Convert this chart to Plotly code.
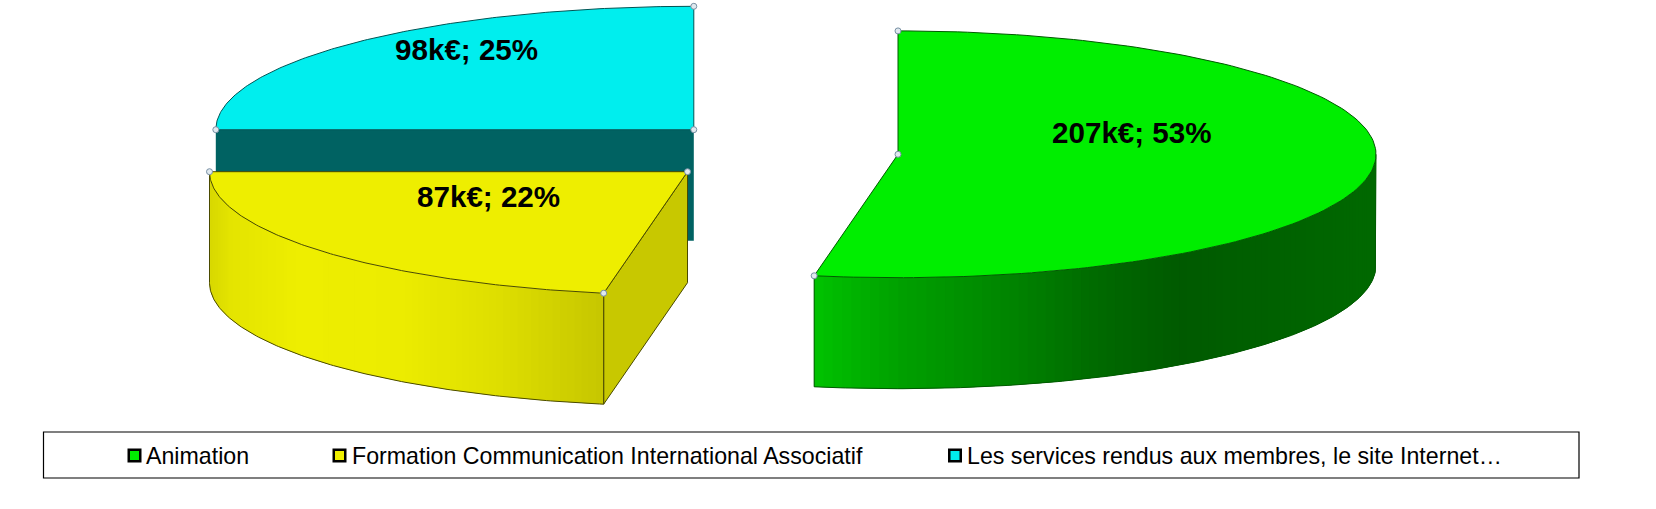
import numpy as np
import plotly.graph_objects as go

# ---- data ----
categories = ["Animation",
              "Formation Communication International Associatif",
              "Les services rendus aux membres, le site Internet…"]
values_keur = [207, 87, 98]
percents = [53, 22, 25]

# ---- style / layout constants ----
W, H = 1656, 509
RX, RY, DEPTH = 478.0, 123.4, 111.0
FONT = "Liberation Sans, Arial, sans-serif"
centers = [(898.0, 154.3), (687.5, 171.7), (693.8, 129.7)]
top_colors = ["#00ee00", "#eeee00", "#00eeee"]
edge_colors = ["#005a00", "#4a4a00", "#005555"]
label_pos = [(1132, 132.5), (488.8, 196.2), (466.2, 49.5)]
legend_key_x = [134.5, 339.5, 955]
legend_text_x = [143.8, 349.5, 964.5]
LEGEND_Y = 455.5

# gradient stops along x for the rim of each slice (x, grey-level)
green_rim = ([814, 900, 1000, 1100, 1180, 1376], [195, 160, 135, 105, 90, 105])
yellow_rim = ([209, 230, 300, 400, 500, 560, 604], [215, 228, 238, 236, 222, 208, 198])

fracs = np.array(values_keur, dtype=float) / sum(values_keur)
edges = np.concatenate([[0], np.cumsum(fracs)]) * 2 * np.pi
spans = list(zip(edges[:-1], edges[1:]))


def arc(center, t0, t1, n=160):
    t = np.linspace(t0, t1, n)
    return center[0] + RX * np.sin(t), center[1] - RY * np.cos(t)


fig = go.Figure()


def poly(x, y, fill=None, line=None, width=1.0):
    fig.add_trace(go.Scatter(
        x=list(x), y=list(y), mode="lines", showlegend=False, hoverinfo="skip",
        fill="toself" if fill else None, fillcolor=fill,
        line=dict(color=line or fill or "rgba(0,0,0,0)", width=width if line else 0),
    ))


def rim(center, t0, t1, stops, col, edge):
    ts = np.linspace(t0, t1, 90)
    for a, b in zip(ts[:-1], ts[1:]):
        b2 = min(b + (ts[1] - ts[0]), t1)
        x, y = arc(center, a, b2, 6)
        v = int(round(np.interp(center[0] + RX * np.sin((a + b) / 2), *stops)))
        poly(np.r_[x, x[::-1]], np.r_[y, y[::-1] + DEPTH], fill=col(v))
    x, y = arc(center, t0, t1)
    poly(np.r_[x[0], x, x[-1]], np.r_[y[0], y + DEPTH, y[-1]], line=edge, width=1)


def top(center, t0, t1, fill, edge):
    x, y = arc(center, t0, t1)
    poly(np.r_[center[0], x, center[0]], np.r_[center[1], y, center[1]], fill=fill, line=edge, width=1)


def handles(center, t0, t1):
    x, y = arc(center, t0, t1, 2)
    fig.add_trace(go.Scatter(
        x=[x[0], center[0], x[1]], y=[y[0], center[1], y[1]], mode="markers",
        showlegend=False, hoverinfo="skip",
        marker=dict(size=6, color="#dfe8ee", line=dict(color="#7890a4", width=1)),
    ))


# cyan slice (back)
c = centers[2]
t0, t1 = spans[2]
x, y = arc(c, t0, t0 + 1e-9, 2)
poly([x[0], c[0], c[0], x[0], x[0]],
     [c[1], c[1], c[1] + DEPTH, c[1] + DEPTH, c[1]], fill="#006262")
top(c, t0, t1, top_colors[2], edge_colors[2])

# yellow slice
c = centers[1]
t0, t1 = spans[1]
x, y = arc(c, t0, t1, 2)
poly([c[0], x[0], x[0], c[0], c[0]],
     [c[1], y[0], y[0] + DEPTH, c[1] + DEPTH, c[1]], fill="#c8c800", line=edge_colors[1])
rim(c, t0, t1, yellow_rim, lambda v: f"rgb({v},{v},0)", edge_colors[1])
top(c, t0, t1, top_colors[1], edge_colors[1])

# green slice
c = centers[0]
t0, t1 = spans[0]
rim(c, np.pi / 2, t1, green_rim, lambda v: f"rgb(0,{v},0)", edge_colors[0])
top(c, t0, t1, top_colors[0], edge_colors[0])

for i in (2, 1, 0):
    handles(centers[i], *spans[i])

# value labels
annotations = [dict(x=p[0], y=p[1], text=f"<b>{v}k€; {q}%</b>", showarrow=False,
                    xanchor="center", yanchor="middle",
                    font=dict(family=FONT, size=29.6, color="#000000"))
               for p, v, q in zip(label_pos, values_keur, percents)]

# legend
fig.add_trace(go.Scatter(
    x=legend_key_x, y=[LEGEND_Y] * 3, mode="markers", showlegend=False, hoverinfo="skip",
    marker=dict(symbol="square", size=11.5, color=top_colors, line=dict(color="#000000", width=2.5)),
))
annotations += [dict(x=x, y=LEGEND_Y, text=name, showarrow=False, xanchor="left", yanchor="middle",
                     font=dict(family=FONT, size=23.2, color="#000000"))
                for x, name in zip(legend_text_x, categories)]

fig.update_layout(
    width=W, height=H, margin=dict(l=0, r=0, t=0, b=0),
    paper_bgcolor="#ffffff", plot_bgcolor="#ffffff",
    xaxis=dict(range=[0, W], visible=False, fixedrange=True),
    yaxis=dict(range=[H, 0], visible=False, fixedrange=True),
    annotations=annotations,
    shapes=[dict(type="rect", x0=43.5, x1=1579, y0=432, y1=478,
                 line=dict(color="#000000", width=1.2), fillcolor="rgba(0,0,0,0)")],
)

fig.write_html("out.html", config={"displayModeBar": False},
               post_script="document.body.style.margin='0';")
